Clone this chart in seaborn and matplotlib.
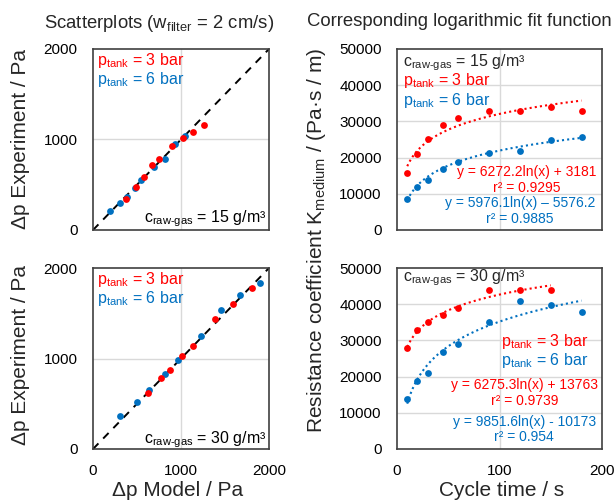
import numpy as np
import pandas as pd
import matplotlib.pyplot as plt
import seaborn as sns

# colours used in the original chart
RED = '#FF0000'
BLUE = '#0070C0'

# scatterplots, c_raw-gas = 15 g/m3 (model vs experiment, Pa)
model_15_3bar = [377, 491, 581, 672, 755, 898, 1019, 1140, 1260]
exp_15_3bar = [339, 480, 583, 716, 790, 930, 1018, 1085, 1162]
model_15_6bar = [189, 302, 385, 475, 551, 694, 815, 936, 1049]
exp_15_6bar = [214, 295, 369, 465, 553, 694, 790, 945, 1041]

# scatterplots, c_raw-gas = 30 g/m3
model_30_3bar = [626, 770, 875, 1011, 1140, 1381, 1592, 1804]
exp_30_3bar = [619, 788, 877, 1024, 1142, 1436, 1606, 1783]
model_30_6bar = [309, 498, 642, 815, 966, 1223, 1449, 1675, 1894]
exp_30_6bar = [361, 516, 648, 825, 987, 1245, 1540, 1702, 1834]

# resistance coefficient vs cycle time
cycle_time = [10, 20, 30, 45, 60, 90, 120, 150, 180]
cycle_time_short = [10, 20, 30, 45, 60, 90, 120, 150]
k_15_3bar = [15700, 21000, 25000, 28900, 30900, 32900, 33000, 34000, 33000]
k_15_6bar = [8700, 11800, 13700, 16900, 18900, 21400, 21900, 24900, 25800]
k_30_3bar = [28000, 33000, 35000, 37000, 39000, 44000, 44000, 44000]
k_30_6bar = [13900, 18900, 20900, 26900, 28900, 35000, 41000, 39900, 37900]

# logarithmic fits y = a*ln(x) + b as printed in the chart
fit_15_3bar = (6272.2, 3181)
fit_15_6bar = (5976.1, -5576.2)
fit_30_3bar = (6275.3, 13763)
fit_30_6bar = (9851.6, -10173)

sns.set_theme(style='white')
plt.rcParams['font.family'] = ['Liberation Sans', 'DejaVu Sans']
plt.rcParams['mathtext.fontset'] = 'custom'
plt.rcParams['mathtext.rm'] = 'Liberation Sans'
plt.rcParams['mathtext.it'] = 'Liberation Sans:italic'
plt.rcParams['mathtext.bf'] = 'Liberation Sans:bold'

W, H = 616, 504
fig = plt.figure(figsize=(W / 100, H / 100), dpi=100)


def px_axes(left, top, right, bottom):
    return fig.add_axes([left / W, 1 - bottom / H, (right - left) / W, (bottom - top) / H])


ax_tl = px_axes(93, 49, 269, 230)
ax_bl = px_axes(93, 268, 269, 449)
ax_tr = px_axes(397, 49, 602, 230)
ax_br = px_axes(397, 268, 602, 449)

P3 = r'$\mathregular{p_{tank}}$ = 3 bar'
P6 = r'$\mathregular{p_{tank}}$ = 6 bar'


def craw(c):
    return r'$\mathregular{c_{raw‐gas}}$' + f' = {c} g/m³'


def style_axes(ax, xlim, ylim, xticks, yticks, xgrid, ygrid, show_x):
    ax.set_xlim(*xlim)
    ax.set_ylim(*ylim)
    ax.set_xticks(xticks)
    ax.set_yticks(yticks)
    for v in xgrid:
        ax.axvline(v, color='#d9d9d9', lw=1, zorder=0)
    for v in ygrid:
        ax.axhline(v, color='#d9d9d9', lw=1, zorder=0)
    ax.tick_params(length=0, labelsize=11, pad=11, colors='#000000')
    if not show_x:
        ax.set_xticklabels([])
    for s in ax.spines.values():
        s.set_color('#404040')
        s.set_linewidth(1.2)
    ax.set_xlabel('')
    ax.set_ylabel('')


# --- scatterplots ---
for ax, m3, e3, m6, e6, c, show_x, cy in [
    (ax_tl, model_15_3bar, exp_15_3bar, model_15_6bar, exp_15_6bar, 15, False, 0.065),
    (ax_bl, model_30_3bar, exp_30_3bar, model_30_6bar, exp_30_6bar, 30, True, 0.05),
]:
    ax.plot([0, 2000], [0, 2000], color='black', ls=(0, (4, 3.5)), lw=1.4, zorder=1)
    sns.scatterplot(x=m6, y=e6, ax=ax, color=BLUE, s=24, linewidth=0, zorder=3)
    sns.scatterplot(x=m3, y=e3, ax=ax, color=RED, s=24, linewidth=0, zorder=3)
    style_axes(ax, (0, 2000), (0, 2000), [0, 1000, 2000], [0, 1000, 2000],
               [1000], [1000], show_x)
    ax.text(0.025, 0.935, P3, color=RED, fontsize=11.5, transform=ax.transAxes, va='center')
    ax.text(0.025, 0.83, P6, color=BLUE, fontsize=11.5, transform=ax.transAxes, va='center')
    ax.text(0.985, cy, craw(c), color='black', fontsize=11.5, transform=ax.transAxes,
            va='center', ha='right')

# --- logarithmic fits ---
panels = [
    (ax_tr, cycle_time, k_15_3bar, fit_15_3bar, cycle_time, k_15_6bar, fit_15_6bar, False),
    (ax_br, cycle_time_short, k_30_3bar, fit_30_3bar, cycle_time, k_30_6bar, fit_30_6bar, True),
]
for ax, t3, k3, f3, t6, k6, f6, show_x in panels:
    for t, k, f, col in [(t3, k3, f3, RED), (t6, k6, f6, BLUE)]:
        xs = np.linspace(min(t), max(t), 200)
        fit_df = pd.DataFrame({'t': xs, 'k': f[0] * np.log(xs) + f[1]})
        sns.lineplot(data=fit_df, x='t', y='k', ax=ax, color=col, lw=1.5,
                     ls=(0, (1, 1.5)), zorder=2)
        sns.scatterplot(x=t, y=k, ax=ax, color=col, s=24, linewidth=0, zorder=3)
    style_axes(ax, (0, 200), (0, 50000), [0, 100, 200], list(range(0, 50001, 10000)),
               [100], list(range(10000, 50000, 10000)), show_x)

# annotations, top right
ax_tr.text(0.03, 0.925, craw(15), fontsize=11.5, transform=ax_tr.transAxes, va='center')
ax_tr.text(0.03, 0.825, P3, color=RED, fontsize=11.5, transform=ax_tr.transAxes, va='center')
ax_tr.text(0.03, 0.715, P6, color=BLUE, fontsize=11.5, transform=ax_tr.transAxes, va='center')
ax_tr.text(0.634, 0.275, 'y = 6272.2ln(x) + 3181\nr² = 0.9295', color=RED, fontsize=10,
           transform=ax_tr.transAxes, ha='center', va='center', multialignment='center',
           linespacing=1.15)
ax_tr.text(0.60, 0.105, 'y = 5976.1ln(x) – 5576.2\nr² = 0.9885', color=BLUE, fontsize=10,
           transform=ax_tr.transAxes, ha='center', va='center', multialignment='center',
           linespacing=1.15)

# annotations, bottom right
ax_br.text(0.03, 0.945, craw(30), fontsize=11.5, transform=ax_br.transAxes, va='center')
ax_br.text(0.505, 0.595, P3, color=RED, fontsize=11.5, transform=ax_br.transAxes, va='center')
ax_br.text(0.505, 0.49, P6, color=BLUE, fontsize=11.5, transform=ax_br.transAxes, va='center')
ax_br.text(0.622, 0.31, 'y = 6275.3ln(x) + 13763\nr² = 0.9739', color=RED, fontsize=10,
           transform=ax_br.transAxes, ha='center', va='center', multialignment='center',
           linespacing=1.15)
ax_br.text(0.62, 0.108, 'y = 9851.6ln(x) - 10173\nr² = 0.954', color=BLUE, fontsize=10,
           transform=ax_br.transAxes, ha='center', va='center', multialignment='center',
           linespacing=1.15)

# titles and axis labels
fig.text(159 / W, 1 - 24 / H, r'Scatterplots ($\mathregular{w_{filter}}$ = 2 cm/s)',
         fontsize=13.3, ha='center', va='center')
fig.text(307 / W, 1 - 22 / H, 'Corresponding logarithmic fit function',
         fontsize=13.3, ha='left', va='center')
fig.text(21 / W, 1 - 139 / H, 'Δp Experiment / Pa', fontsize=15, rotation=90,
         ha='center', va='center')
fig.text(21 / W, 1 - 355 / H, 'Δp Experiment / Pa', fontsize=15, rotation=90,
         ha='center', va='center')
fig.text(316 / W, 1 - 240 / H, r'Resistance coefficient $\mathregular{K_{medium}}$ / (Pa·s / m)',
         fontsize=15, rotation=90, ha='center', va='center')
fig.text(178 / W, 1 - 490 / H, 'Δp Model / Pa', fontsize=15, ha='center', va='center')
fig.text(502 / W, 1 - 490 / H, 'Cycle time / s', fontsize=15, ha='center', va='center')

fig.savefig('out.png', dpi=100)
